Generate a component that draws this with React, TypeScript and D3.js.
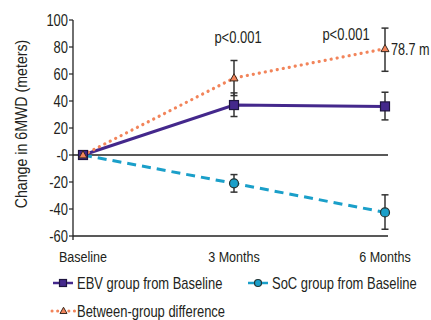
import React, { useRef, useEffect } from "react";
import * as d3 from "d3";

const categories = ["Baseline", "3 Months", "6 Months"];
const yTicks = [100, 80, 60, 40, 20, 0, -20, -40, -60];
const yTickLabels = ["100", "80", "60", "40", "20", "-0", "-20", "-40", "-60"];

const ebvValues = [0, 37, 36];
const ebvLow = [0, 28.5, 26];
const ebvHigh = [0, 46, 46.5];

const socValues = [0, -21, -42.5];
const socLow = [0, -27.5, -55];
const socHigh = [0, -14.5, -29.5];

const diffValues = [0, 57, 78.7];
const diffLow = [0, 44, 62];
const diffHigh = [0, 70, 94];

const pLabels = ["", "p<0.001", "p<0.001"];
const legendLabels = ["EBV group from Baseline", "SoC group from Baseline", "Between-group difference"];

const FONT = "'Liberation Sans', Arial, sans-serif";
const SQUEEZE = 0.81; // the original uses a condensed face

export default function App() {
    const ref = useRef<SVGSVGElement | null>(null);

    useEffect(() => {
        if (!ref.current) return;
        const svg = d3.select(ref.current);
        svg.selectAll("*").remove();

        // condensed-looking text: scale horizontally around the anchor point
        const label = (x: number, y: number, txt: string, size: number, anchor = "start", rot = 0, sx = SQUEEZE) =>
            svg.append("text")
                .attr("transform", `translate(${x},${y}) rotate(${rot}) scale(${sx},1)`)
                .attr("text-anchor", anchor)
                .attr("dy", "0.36em")
                .attr("font-family", FONT).attr("font-size", size).attr("fill", "#231f20")
                .text(txt);

        const x = d3.scalePoint<string>().domain(categories).range([83, 385]);
        const y = d3.scaleLinear().domain([-60, 100]).range([236, 20]);

        const axisLeft = 73, axisRight = 388;

        // y axis
        svg.append("line")
            .attr("x1", axisLeft).attr("x2", axisLeft)
            .attr("y1", y(100)).attr("y2", y(-60) + 4)
            .attr("stroke", "#222").attr("stroke-width", 1.3);
        yTicks.forEach((t, i) => {
            svg.append("line")
                .attr("x1", axisLeft - 4).attr("x2", axisLeft)
                .attr("y1", y(t)).attr("y2", y(t))
                .attr("stroke", "#222").attr("stroke-width", 1.2);
            label(axisLeft - 5, y(t), yTickLabels[i], 16, "end");
        });

        // bottom axis + zero line
        svg.append("line")
            .attr("x1", axisLeft).attr("x2", axisRight)
            .attr("y1", y(-60)).attr("y2", y(-60))
            .attr("stroke", "#222").attr("stroke-width", 1.3);
        svg.append("line")
            .attr("x1", axisLeft).attr("x2", axisRight)
            .attr("y1", y(0)).attr("y2", y(0))
            .attr("stroke", "#222").attr("stroke-width", 1.3);

        categories.forEach(c => label(x(c)!, 256, c, 15.5, "middle"));

        label(21, 124, "Change in 6MWD (meters)", 16.5, "middle", -90, 0.86);

        const line = d3.line<number>().x((d, i) => x(categories[i])!).y(d => y(d));

        const series = [
            { vals: socValues, lo: socLow, hi: socHigh, color: "#1a9fc9", dash: "9,6", cap: "butt", shape: "circle", fill: "#1a9fc9" },
            { vals: ebvValues, lo: ebvLow, hi: ebvHigh, color: "#44288c", dash: null, cap: "butt", shape: "square", fill: "#44288c" },
            { vals: diffValues, lo: diffLow, hi: diffHigh, color: "#f2845a", dash: "0.1,6", cap: "round", shape: "triangle", fill: "#f2845a" },
        ];

        // lines
        series.forEach(s => {
            const p = svg.append("path")
                .attr("d", line(s.vals))
                .attr("fill", "none")
                .attr("stroke", s.color)
                .attr("stroke-width", s.shape === "triangle" ? 3.2 : 3)
                .attr("stroke-linecap", s.cap);
            if (s.dash) p.attr("stroke-dasharray", s.dash);
        });

        // error bars
        series.forEach(s => {
            s.vals.forEach((v, i) => {
                if (i === 0) return;
                const cx = x(categories[i])!;
                svg.append("line").attr("x1", cx).attr("x2", cx)
                    .attr("y1", y(s.hi[i])).attr("y2", y(s.lo[i]))
                    .attr("stroke", "#333").attr("stroke-width", 1.5);
                [s.hi[i], s.lo[i]].forEach(e => {
                    svg.append("line").attr("x1", cx - 3.5).attr("x2", cx + 3.5)
                        .attr("y1", y(e)).attr("y2", y(e))
                        .attr("stroke", "#333").attr("stroke-width", 1.5);
                });
            });
        });

        const drawMarker = (cx: number, cy: number, shape: string, fill: string, size: number) => {
            if (shape === "circle") {
                svg.append("circle").attr("cx", cx).attr("cy", cy).attr("r", size / 2)
                    .attr("fill", fill).attr("stroke", "#233").attr("stroke-width", 1.2);
            } else if (shape === "square") {
                svg.append("rect").attr("x", cx - size / 2).attr("y", cy - size / 2)
                    .attr("width", size).attr("height", size)
                    .attr("fill", fill).attr("stroke", "#1e1540").attr("stroke-width", 1.2);
            } else {
                const h = size * 0.9;
                svg.append("path")
                    .attr("d", `M${cx},${cy - h * 0.6}L${cx + size / 2},${cy + h * 0.4}L${cx - size / 2},${cy + h * 0.4}Z`)
                    .attr("fill", fill).attr("stroke", "#3a2a20").attr("stroke-width", 1);
            }
        };

        // markers
        series.forEach(s => {
            s.vals.forEach((v, i) => {
                drawMarker(x(categories[i])!, y(v), s.shape, s.fill, s.shape === "triangle" ? 8 : 9);
            });
        });

        // p-values
        label(x(categories[1])! + 4, 37.5, pLabels[1], 16, "middle");
        label(x(categories[2])! - 39, 34.5, pLabels[2], 16, "middle");

        label(x(categories[2])! + 6, y(diffValues[2]), `${diffValues[2]} m`, 16, "start", 0, 0.79);

        // legend
        const legendPos = [[53, 283], [248, 283], [52, 311]];
        const order = [1, 0, 2];
        legendLabels.forEach((lab, i) => {
            const s = series[order[i]];
            const [lx, ly] = legendPos[i];
            const tri = s.shape === "triangle";
            const ln = svg.append("line").attr("x1", lx).attr("x2", lx + (tri ? 23 : 20))
                .attr("y1", ly).attr("y2", ly)
                .attr("stroke", s.color).attr("stroke-width", tri ? 3 : 2.5)
                .attr("stroke-linecap", s.cap);
            if (tri) ln.attr("stroke-dasharray", "0.1,5.5");
            drawMarker(lx + (tri ? 11.5 : 10), ly, s.shape, s.fill, 7);
            label(lx + (tri ? 25 : 24), ly, lab, 16);
        });
    }, []);

    return (
        <svg ref={ref} width={431} height={320}
            style={{ position: "absolute", left: 0, top: 0, background: "#fff" }} />
    );
}
